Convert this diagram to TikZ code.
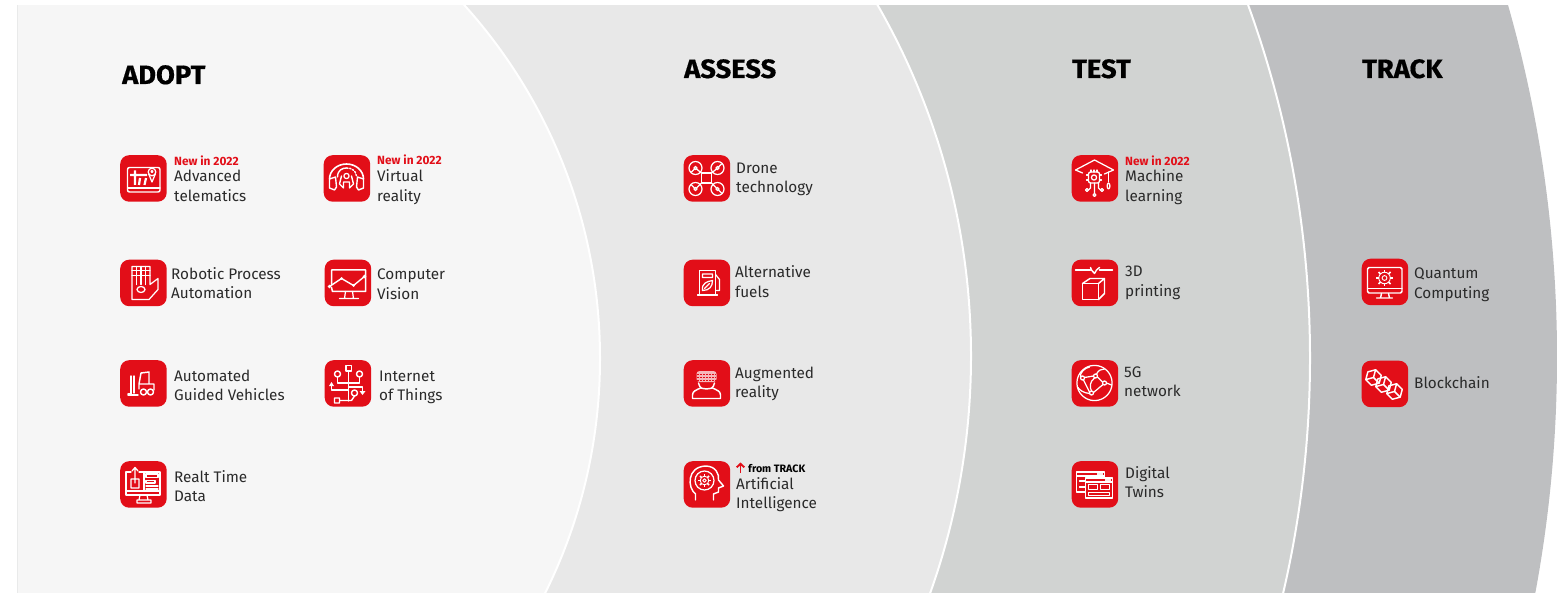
\documentclass[tikz,border=0pt]{standalone}
\usepackage{fontspec}
\setmainfont{Fira Sans}
\newfontfamily\headfont[FakeStretch=1.03,FakeBold=0.5]{Fira Sans}
\usetikzlibrary{arrows.meta}
\definecolor{bandA}{HTML}{F6F6F6}
\definecolor{bandB}{HTML}{E8E8E8}
\definecolor{bandC}{HTML}{D1D3D2}
\definecolor{bandD}{HTML}{BEBFC1}
\definecolor{brand}{HTML}{E20E18}
\definecolor{ink}{HTML}{2A2A2A}
\tikzset{
  box/.style={fill=brand,draw=none,rounded corners=9pt,minimum size=46.5pt,inner sep=0pt,anchor=north west},
  ic/.style={draw=white,line width=1.25pt,line cap=round,line join=round},
  ict/.style={draw=white,line width=2.2pt,line cap=butt,line join=round},
  lab/.style={anchor=base west,inner sep=0pt,text=ink,font=\fontsize{15.3}{19.4}\selectfont},
  head/.style={anchor=base west,inner sep=0pt,text=black,font=\headfont\bfseries\fontsize{26.5}{28}\selectfont},
  newtag/.style={anchor=base west,inner sep=0pt,text=brand,font=\bfseries\fontsize{11.9}{12}\selectfont},
  bandline/.style={draw=white,line width=2pt},
}
\newcommand{\lab}[5]{\node[lab] (#1) at (#2,#3) {\vtop{\baselineskip=19.4pt\hbox{#4}\hbox{#5}}};}
\newcommand{\icn}[4]{\node[box] (#1) at (#2,#3) {};\begin{scope}[shift={(#2,#3)}]#4\end{scope}}
\newcommand{\gear}[3]{\draw[ic,line width=.9pt] (#1,#2) circle[radius=#3*0.72];\foreach \a in {0,45,...,315}{\draw[ic,line width=1.6pt,line cap=butt] (#1,#2)++(\a:#3*0.72) -- ++(\a:#3*0.34);}\draw[ic,line width=.9pt] (#1,#2) circle[radius=#3*0.3];}
\newcommand{\cube}[2]{\begin{scope}[rotate around={-15:(#1,#2)}]\draw[ic,line width=1.45pt] (#1,#2)++(90:8) -- ++(-30:8) -- ++(-90:8) -- ++(-150:8) -- ++(150:8) -- ++(90:8) -- cycle;\draw[ic,line width=1.45pt] (#1,#2)++(150:8) -- (#1,#2) -- ++(30:8);\draw[ic,line width=1.45pt] (#1,#2) -- ++(-90:8);\end{scope}}
\begin{document}
\begin{tikzpicture}[x=1pt,y=-1pt]
\useasboundingbox (0,0) rectangle (1557,593);
\begin{scope}
\clip (17.5,6) rectangle (1557,593);
\fill[bandD] (277,357) circle[radius=1280];
\filldraw[fill=bandC,bandline] (277,358) circle[radius=1033];
\filldraw[fill=bandB,bandline] (266,356) circle[radius=705];
\filldraw[fill=bandA,bandline] (72,358.5) circle[radius=528];
\end{scope}
% headings
\node[head] (hAdopt) at (122,84) {ADOPT};
\node[head] (hAssess) at (684,78) {ASSESS};
\node[head] (hTest) at (1072,78) {TEST};
\node[head] (hTrack) at (1362,78) {TRACK};
% telematics
\icn{iTele}{120}{155}{
 \draw[ic,line width=1.45pt,rounded corners=2pt] (7.5,12.5) rectangle (40,37);
 \draw[ic] (7.5,33) -- (40,33);
 \draw[ict] (10,20) -- (27,20) (15,15.5) -- (15,30) (20,23) -- (19,30) (26,23) -- (24.5,30);
 \draw[ic] (32,17) circle[radius=3.8]; \draw[ic] (28.6,18.8) -- (32,27) -- (35.4,18.8);
 \draw[ic] (32,16.5) circle[radius=1];
}
\node[newtag] (nTele) at (174,166) {New in 2022};
\lab{tTele}{174}{182}{Advanced}{telematics}
% VR
\icn{iVR}{323.5}{155}{
 \draw[ic,line width=1.6pt] (6,24) arc[start angle=180,end angle=360,x radius=17,y radius=15];
 \draw[ic,line width=1.4pt] (6,24) -- (6,33) -- (11,35) -- (13,32) -- (12,22) -- (6,24);
 \draw[ic,line width=1.4pt] (40,24) -- (40,33) -- (35,35) -- (33,32) -- (34,22) -- (40,24);
 \draw[ic,line width=1.4pt] (14,22) .. controls (14,15) and (19,13) .. (23,13);
 \draw[ic,line width=1.4pt,dash pattern=on 1.5pt off 1.6pt] (23,13) .. controls (28,13) and (32,15) .. (33,21);
 \draw[ic] (23,21) circle[radius=2.6];
 \draw[ic,line width=1.4pt] (18,21) -- (16,29) -- (20,33) (28,21) -- (30,29) -- (26,33) (20,27) -- (20,33) (26,27) -- (26,33) (20,27) -- (26,27);
}
\node[newtag] (nVR) at (377,165) {New in 2022};
\lab{tVR}{377}{182}{Virtual}{reality}
% RPA
\icn{iRPA}{120}{259.5}{
 \draw[ic] (12,25) -- (12,7) -- (30,7) -- (30,25) -- (38,19) -- (38,30) -- (29,40) -- (12,40) -- cycle;
 \draw[ic] (16.5,7) -- (16.5,25) (21,7) -- (21,25) (25.5,7) -- (25.5,25);
 \draw[ic] (12,11) -- (30,11) (12,16) -- (30,16);
 \draw[ic] (21,30) ellipse[x radius=4,y radius=3];
}
\lab{tRPA}{171}{279.5}{Robotic Process}{Automation}
% Vision
\icn{iVis}{324.5}{259.5}{
 \draw[ic,line width=1.5pt] (7,25) -- (7,10.5) -- (41,10.5) -- (41,32) -- (8,32) -- (7,28);
 \draw[ic,line width=1.4pt] (5,27) -- (17,19) -- (29,26) -- (40,17);
 \fill[white] (5,27) circle[radius=1.9] (17,19) circle[radius=1.5] (29,26) circle[radius=1.5] (40,17) circle[radius=1.9];
 \draw[ic] (21,32) -- (20,39) (28,32) -- (29,39) (15,39) -- (34,39);
}
\lab{tVis}{377}{280}{Computer}{Vision}
% AGV
\icn{iAGV}{120}{360}{
 \draw[ic,line width=1.45pt] (14,16) -- (14,33) (11,16) -- (11,34) -- (8,34) (8,35) -- (18,35);
 \draw[ic,line width=1.45pt] (19,29) -- (19,24) -- (21,13) -- (29,12) -- (29,24) -- (19,24) (29,24) -- (34,24) -- (34,30);
 \draw[ic,line width=1.45pt] (23.5,32) circle[radius=3] (30.5,32) circle[radius=3];
}
\lab{tAGV}{174}{381}{Automated}{Guided Vehicles}
% IoT
\icn{iIoT}{324.5}{360}{
 \draw[ic,line width=1.45pt] (21.5,5.5) rectangle (27,11);
 \draw[ic,line width=1.45pt] (13,14) circle[radius=3] (35,14) circle[radius=3] (30,33) circle[radius=3];
 \draw[ic,line width=1.45pt] (24,11) -- (24,41) (13,17) -- (13,23) -- (35,23) -- (35,17);
 \draw[ic,line width=1.45pt] (7,25) -- (7,30) -- (24,30) (24,27) -- (38,27) -- (38,31);
 \draw[ic,line width=1.45pt] (10,38) rectangle (15,43) (15,40.5) -- (27,40.5) (30,36) -- (27,40.5);
 \fill[white] (4.5,26) -- (7,22) -- (9.5,26) -- cycle (35,31) -- (41,31) -- (38,35) -- cycle;
}
\lab{tIoT}{379}{381}{Internet}{of Things}
% Real time
\icn{iRT}{120}{461}{
 \draw[ic] (11,11) -- (6,11) -- (6,34) -- (40,34) -- (40,11) -- (19,11) (6,30) -- (40,30) (24,12) -- (24,30);
 \draw[ic] (15,22) -- (15,7) (12,10) -- (15,6.5) -- (18,10) (11,18) rectangle (19,27);
 \draw[ic] (26,13) rectangle (38,16.5) (26,19.5) rectangle (35,22) (26,25) -- (38,25) (26,28) -- (38,28);
 \draw[ic] (20,34) -- (19,39) (27,34) -- (28,39) (17,39) rectangle (31,42);
}
\lab{tRT}{174}{482}{Realt Time}{Data}
% Drone
\icn{iDrone}{683.5}{155}{
 \draw[ic,line width=1.45pt] (18,18) rectangle (28,28);
 \draw[ic] (12,13) circle[radius=6.5] (34,13) circle[radius=6.5] (12,34) circle[radius=6.5] (34,34) circle[radius=6.5];
 \draw[ic] (12,13) circle[radius=1.6] (34,13) circle[radius=1.6] (12,34) circle[radius=1.6] (34,34) circle[radius=1.6];
 \draw[ic] (18,18) -- (13,14) (28,18) -- (33,14) (18,28) -- (13,33) (28,28) -- (33,33);
 \draw[ic] (8,17) -- (11,14) (38,9) -- (35,12) (8,30) -- (11,33) (38,38) -- (35,35);
}
\lab{tDrone}{736}{173.5}{Drone}{technology}
% Fuel
\icn{iFuel}{683.5}{259.5}{
 \draw[ic] (16,35) -- (16,11) -- (32,11) -- (32,35) (14,35.5) -- (34,35.5);
 \draw[ic] (19,14.5) rectangle (29,18) (32,15) -- (36,20) -- (36,31) -- (33,31);
 \draw[ic] (19,31) .. controls (18,24) and (23,22) .. (29,21) .. controls (29,27) and (26,31) .. (19,31) -- cycle;
 \draw[ic] (21,29) -- (26,24);
}
\lab{tFuel}{735}{278}{Alternative}{fuels}
% AR
\icn{iAR}{683.5}{360}{
 \draw[ic,line width=1.45pt] (9,38.5) -- (9,35) .. controls (9,31) and (13,30) .. (17,28) (37,38.5) -- (37,35) .. controls (37,31) and (33,30) .. (29,28) (9,38.5) -- (37,38.5);
 \draw[ic,line width=1.45pt] (15,23) .. controls (16,29) and (20,29) .. (23,29) .. controls (26,29) and (30,29) .. (31,23);
 \fill[white,opacity=.7,rounded corners=3pt] (13,11) rectangle (33,22);
 \draw[brand,line width=.7pt,dash pattern=on 1.5pt off 1.5pt] (13.5,14) -- (32.5,14) (13.5,17) -- (32.5,17) (13.5,20) -- (32.5,20);
}
\lab{tAR}{735}{378}{Augmented}{reality}
% AI
\icn{iAI}{683.5}{461}{
 \draw[ic,line width=1.45pt] (12,39) -- (12,33) .. controls (4,27) and (3,6) .. (22,5) .. controls (32,5) and (36,13) .. (35,19) -- (40,25) -- (35,27) -- (35,31) -- (30,33) -- (30,39);
 \draw[ic] (21,19.5) circle[radius=9.5];
 \gear{21}{19.5}{6}
}
\draw[brand,line width=1.9pt,-{Straight Barb[length=3.5pt,width=7.5pt]}] (740.5,473) -- (740.5,462.5);
\node[anchor=base west,inner sep=0pt,text=black,font=\bfseries\fontsize{10.7}{12}\selectfont] (nAI) at (748,472) {from TRACK};
\lab{tAI}{736}{489}{Artificial}{Intelligence}
% ML
\icn{iML}{1071.5}{155}{
 \draw[ic] (11,18) -- (4,15) -- (23,5) -- (42,15) -- (33,19);
 \draw[ic] (37,17) -- (37,27);
 \draw[ic] (37,31) ellipse[x radius=1.4,y radius=3];
 \draw[ic,line width=1.3pt,rounded corners=2pt] (17,17) rectangle (28,28);
 \draw[ic] (22.5,22.5) circle[radius=2.6];
 \draw[ic] (19.5,15) -- (19.5,17) (22.5,15) -- (22.5,17) (25.5,15) -- (25.5,17) (15,20) -- (17,20) (15,25) -- (17,25) (28,20) -- (30,20) (28,25) -- (30,25);
 \draw[ic] (23,28) -- (23,38) (19,28) -- (19,33) -- (17,35) (27,28) -- (27,33) -- (29,35);
 \draw[ic] (15.5,35) circle[radius=1.5] (23,40) circle[radius=1.5] (30.5,35) circle[radius=1.5];
}
\node[newtag] (nML) at (1125,166) {New in 2022};
\lab{tML}{1125}{182}{Machine}{learning}
% 3D
\icn{i3D}{1071.5}{259.5}{
 \draw[ic,line width=1.45pt] (4,10.5) -- (19,10.5) (28,10.5) -- (41,10.5);
 \draw[ic,line width=1.45pt] (19,8) -- (20,10.5) -- (23,14) -- (25,10.5) -- (28,8);
 \draw[ic,line width=1.45pt] (11,24) rectangle (27,40);
 \draw[ic,line width=1.45pt] (11,24) -- (18.5,19) -- (33,19) -- (27,24) (33,19) -- (33,34) -- (27,40);
}
\lab{t3D}{1125}{277}{3D}{printing}
% 5G
\icn{i5G}{1071.5}{360}{
 \draw[ic] (23,23) circle[radius=17.6];
 \draw[ic] (11,18) circle[radius=2] (24,16) circle[radius=2] (33,23) circle[radius=2] (20,33) circle[radius=2];
 \draw[ic] (13,17.5) -- (22,16) (26,17) -- (31,22) (12,20) -- (18,32) (31.5,24.5) -- (22,32.5);
 \draw[ic] (23,18) .. controls (18,22) and (18,27) .. (20,31);
 \draw[ic] (9,17) .. controls (8,13) and (13,8) .. (18,7) (25,14) .. controls (27,10) and (30,9) .. (33,9);
 \draw[ic] (35,23) -- (40,25) (18,33.5) .. controls (12,33) and (8,30) .. (6,27);
}
\lab{t5G}{1124}{377}{5G}{network}
% Twins
\icn{iTwin}{1071.5}{461}{
 \draw[ic] (14,31) -- (5,31) -- (5,11) -- (33,11) -- (33,17);
 \draw[ic] (5,15) -- (33,15) (8,20) -- (14,20) (8,26) -- (14,26);
 \draw[ic] (14,17) rectangle (41,37) (14,21) -- (41,21);
 \draw[ic] (17,23.5) rectangle (26,28.5) (29,23.5) rectangle (38,28.5) (17,31.5) rectangle (38,34.5);
 \draw[ic,dash pattern=on 1pt off 1pt] (26,13) -- (31,13) (34,19) -- (39,19);
}
\lab{tTwin}{1125}{478}{Digital}{Twins}
% Quantum
\icn{iQC}{1361.5}{258.5}{
 \draw[ic,line width=1.45pt,rounded corners=1.5pt] (6,9) rectangle (40.5,34.5);
 \draw[ic,line width=1.45pt] (6,30) -- (40.5,30);
 \draw[ic,line width=1.45pt] (20,35) -- (19,39.5) (27,35) -- (28,39.5) (15,39.5) -- (31,39.5);
 \gear{23}{19.5}{8}
}
\lab{tQC}{1414}{279}{Quantum}{Computing}
% Blockchain
\icn{iBC}{1361.5}{360.5}{
 \cube{12}{17}
 \cube{22}{24}
 \cube{33}{31}
}
\node[lab] (tBC) at (1414,388.5) {Blockchain};
\end{tikzpicture}
\end{document}
